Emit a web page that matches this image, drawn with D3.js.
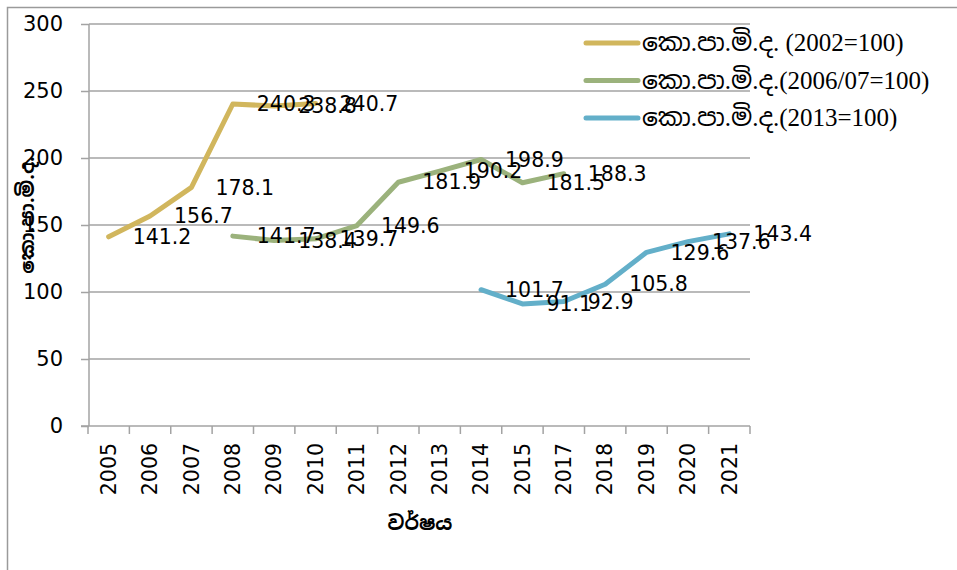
<!DOCTYPE html>
<html>
<head>
<meta charset="utf-8">
<script src="https://cdn.jsdelivr.net/npm/d3@7"></script>
<style>
  body { margin: 0; background: #fff; }
  svg { display: block; }
  .tick text { font-family: "DejaVu Sans", sans-serif; fill: #000; }
  .rotulo { font-family: "DejaVu Sans", sans-serif; font-size: 20.5px; fill: #000; }
  .legenda { font-family: "Liberation Serif", "Noto Sans Sinhala", serif; font-size: 25px; fill: #000; }
  .titulo { font-family: "Noto Sans Sinhala", "DejaVu Sans", sans-serif; fill: #000; }
</style>
</head>
<body>
<div id="grafico"></div>
<script>
// categorias (não há 2016 no original)
const anos = ["2005", "2006", "2007", "2008", "2009", "2010", "2011", "2012",
              "2013", "2014", "2015", "2017", "2018", "2019", "2020", "2021"];

// séries, alinhadas com os anos (null = sem valor)
const cpi2002 = [141.2, 156.7, 178.1, 240.3, 238.8, 240.7, null, null,
                 null, null, null, null, null, null, null, null];
const cpi2006 = [null, null, null, 141.7, 138.4, 139.7, 149.6, 181.9,
                 190.2, 198.9, 181.5, 188.3, null, null, null, null];
const cpi2013 = [null, null, null, null, null, null, null, null,
                 null, 101.7, 91.1, 92.9, 105.8, 129.6, 137.6, 143.4];

const nomesSeries = ["කො.පා.මි.ද. (2002=100)", "කො.පා.මි.ද.(2006/07=100)", "කො.පා.මි.ද.(2013=100)"];
const ticksY = [0, 50, 100, 150, 200, 250, 300];

function criarGrafico() {
    const largura = 957, altura = 570;
    const cores = ["#D1B65D", "#9BB27C", "#63AFC9"];
    const series = [cpi2002, cpi2006, cpi2013];

    const svg = d3.select("#grafico").append("svg")
        .attr("width", largura)
        .attr("height", altura);

    // moldura
    svg.append("rect")
        .attr("x", 7.5).attr("y", 7.5)
        .attr("width", 1000).attr("height", 1000)
        .attr("fill", "none")
        .attr("stroke", "#9a9a9a")
        .attr("stroke-width", 1.5);

    const x = d3.scaleBand().domain(anos).range([88, 750]).padding(0);
    const y = d3.scaleLinear().domain([0, 300]).range([426, 24]);
    const cx = d => x(d) + x.bandwidth() / 2;

    // linhas de grade
    svg.append("g").selectAll("line")
        .data(ticksY.filter(t => t > 0))
        .enter().append("line")
        .attr("x1", 89).attr("x2", 750)
        .attr("y1", d => y(d)).attr("y2", d => y(d))
        .attr("stroke", "#a3a3a3").attr("stroke-width", 1.5);

    // eixo Y
    const eixoY = svg.append("g")
        .attr("transform", "translate(89,0)")
        .call(d3.axisLeft(y).tickValues(ticksY).tickSize(8).tickPadding(18));
    eixoY.selectAll("line, path").attr("stroke", "#a3a3a3").attr("stroke-width", 1.5);
    eixoY.select(".domain").attr("d", `M0,${y(0)}V${y(300)}`);
    eixoY.selectAll("text").style("font-size", "21px");

    // eixo X
    const eixoX = svg.append("g")
        .attr("transform", `translate(0,${y(0)})`)
        .call(d3.axisBottom(x).tickSize(0));
    eixoX.select(".domain").attr("stroke", "#a3a3a3").attr("stroke-width", 1.5)
        .attr("d", "M81,0H750");
    eixoX.selectAll("text")
        .style("font-size", "20.5px")
        .attr("transform", "rotate(-90)")
        .attr("text-anchor", "end")
        .attr("x", -17)
        .attr("y", 0)
        .attr("dy", "0.35em");
    // marcas entre categorias
    eixoX.append("g").selectAll("line")
        .data(anos.concat(["fim"]))
        .enter().append("line")
        .attr("x1", (d, i) => i < anos.length ? x(d) : x(anos[anos.length - 1]) + x.bandwidth())
        .attr("x2", (d, i) => i < anos.length ? x(d) : x(anos[anos.length - 1]) + x.bandwidth())
        .attr("y1", 0).attr("y2", 8)
        .attr("stroke", "#a3a3a3").attr("stroke-width", 1.5);

    // linhas das séries
    const linha = d3.line()
        .defined(d => d.v != null)
        .x(d => cx(d.ano))
        .y(d => y(d.v));

    series.forEach((s, k) => {
        const dados = anos.map((a, i) => ({ ano: a, v: s[i] }));
        svg.append("path")
            .datum(dados)
            .attr("fill", "none")
            .attr("stroke", cores[k])
            .attr("stroke-width", 5)
            .attr("stroke-linejoin", "round")
            .attr("stroke-linecap", "round")
            .attr("d", linha);
    });

    // rótulos dos valores
    series.forEach((s, k) => {
        const dados = anos.map((a, i) => ({ ano: a, v: s[i] })).filter(d => d.v != null);
        svg.append("g").selectAll("text")
            .data(dados)
            .enter().append("text")
            .attr("class", "rotulo")
            .attr("x", d => cx(d.ano) + 24)
            .attr("y", d => y(d.v))
            .attr("dy", "0.35em")
            .text(d => d.v.toFixed(1));
    });

    // legenda
    const leg = svg.append("g");
    nomesSeries.forEach((n, k) => {
        const yy = 43 + k * 37.5;
        leg.append("line")
            .attr("x1", 586).attr("x2", 638)
            .attr("y1", yy).attr("y2", yy)
            .attr("stroke", cores[k]).attr("stroke-width", 5)
            .attr("stroke-linecap", "round");
        leg.append("text")
            .attr("class", "legenda")
            .attr("x", 642).attr("y", yy)
            .attr("dy", "0.33em")
            .text(n);
    });

    // títulos dos eixos
    svg.append("text")
        .attr("class", "titulo")
        .attr("transform", "translate(27,215) rotate(-90)")
        .attr("text-anchor", "middle")
        .attr("dy", "0.35em")
        .style("font-size", "20px")
        .style("font-weight", "bold")
        .text("කො.පා.මි.ද.");

    svg.append("text")
        .attr("class", "titulo")
        .attr("x", 420).attr("y", 523)
        .attr("text-anchor", "middle")
        .attr("dy", "0.35em")
        .style("font-size", "20px")
        .style("font-weight", "bold")
        .text("වර්ෂය");
}

criarGrafico();
</script>
</body>
</html>
